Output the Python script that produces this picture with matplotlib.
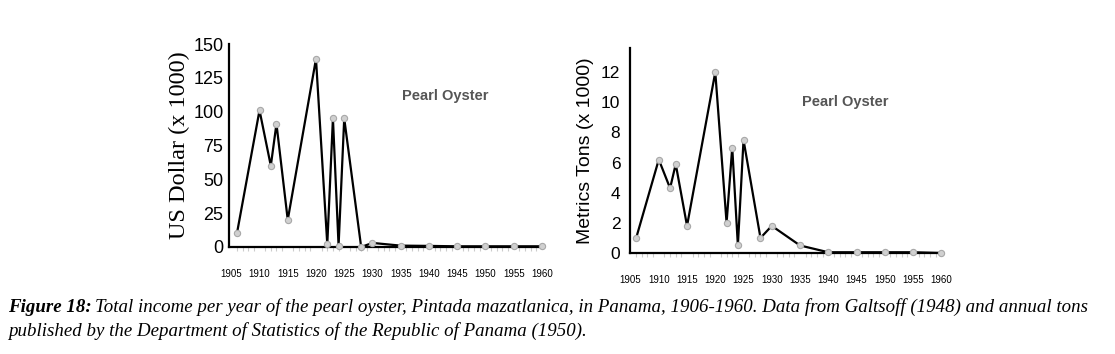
import matplotlib.pyplot as plt

# Data
years_usd = [1906, 1910, 1912, 1913, 1915, 1920, 1922, 1923, 1924, 1925, 1928,
             1930, 1935, 1940, 1945, 1950, 1955, 1960]
usd = [10, 101, 60, 91, 20, 139, 2, 95, 1, 95, 0,
       3, 1, 0.8, 0.5, 0.5, 0.5, 0.5]

years_tons = [1906, 1910, 1912, 1913, 1915, 1920, 1922, 1923, 1924, 1925, 1928,
              1930, 1935, 1940, 1945, 1950, 1955, 1960]
tons = [1.0, 6.2, 4.3, 5.9, 1.8, 12.0, 2.0, 7.0, 0.5, 7.5, 1.0,
        1.8, 0.5, 0.05, 0.05, 0.05, 0.05, 0.0]

xticks = list(range(1905, 1961, 5))
usd_ticks = [0, 25, 50, 75, 100, 125, 150]
tons_ticks = [0, 2, 4, 6, 8, 10, 12]

caption1 = ("Total income per year of the pearl oyster, Pintada mazatlanica, in Panama, "
            "1906-1960. Data from Galtsoff (1948) and annual tons")
caption2 = "published by the Department of Statistics of the Republic of Panama (1950)."

fig = plt.figure(figsize=(11.15, 3.54), dpi=100)


def style_axis(ax, x, y, ylim, yticks, xlim, ytick_size, ypad):
    ax.plot(x, y, color='black', lw=1.6, marker='o', ms=4.5,
            mfc='#d0d0d0', mec='#a8a8a8', mew=0.8, clip_on=False, zorder=3)
    ax.set_xlim(*xlim)
    ax.set_ylim(*ylim)
    ax.spines['top'].set_visible(False)
    ax.spines['right'].set_visible(False)
    ax.spines['left'].set_linewidth(1.6)
    ax.spines['bottom'].set_linewidth(1.6)
    ax.set_yticks(yticks)
    ax.set_xticks(xticks)
    ax.set_xticks(range(1905, 1961), minor=True)
    ax.tick_params(axis='y', length=0, pad=ypad, labelsize=ytick_size)
    ax.tick_params(axis='x', which='major', length=0, pad=16, labelsize=7)
    ax.tick_params(axis='x', which='minor', length=3, color='#cccccc', width=0.8)
    for lab in ax.get_yticklabels() + ax.get_xticklabels():
        lab.set_fontfamily('Liberation Sans')


# Left panel: income
ax1 = fig.add_axes([0.2054, 0.3023, 0.2816, 0.5734])
style_axis(ax1, years_usd, usd, (0, 150), usd_ticks, (1904.6, 1960.2), 13, 4)
ax1.set_ylabel('US Dollar (x 1000)', fontfamily='Liberation Serif', fontsize=17.5, labelpad=2)
ax1.text(0.552, 0.745, 'Pearl Oyster', transform=ax1.transAxes, fontsize=10.5,
         color='#555555', fontweight='bold', fontfamily='Liberation Sans', va='center')

# Right panel: tons
ax2 = fig.add_axes([0.565, 0.2853, 0.2807, 0.579])
style_axis(ax2, years_tons, tons, (0, 13.6), tons_ticks, (1904.9, 1960.3), 12.5, 7)
ax2.set_ylabel('Metrics Tons (x 1000)', fontfamily='Liberation Sans', fontsize=14, labelpad=5)
ax2.text(0.55, 0.735, 'Pearl Oyster', transform=ax2.transAxes, fontsize=10.5,
         color='#555555', fontweight='bold', fontfamily='Liberation Sans', va='center')

# Caption
cap_kw = dict(fontsize=13.6, fontstyle='italic', fontfamily='Liberation Serif', va='center')
y1 = 1 - 307 / 354
y2 = 1 - 331 / 354
lead = fig.text(0.007, y1, 'Figure 18:', fontweight='bold', **cap_kw)
renderer = fig.canvas.get_renderer()
bb = lead.get_window_extent(renderer)
fig.text((bb.x1 + 4) / fig.bbox.width, y1, caption1, **cap_kw)
fig.text(0.007, y2, caption2, **cap_kw)

fig.savefig('out.png', dpi=100)
